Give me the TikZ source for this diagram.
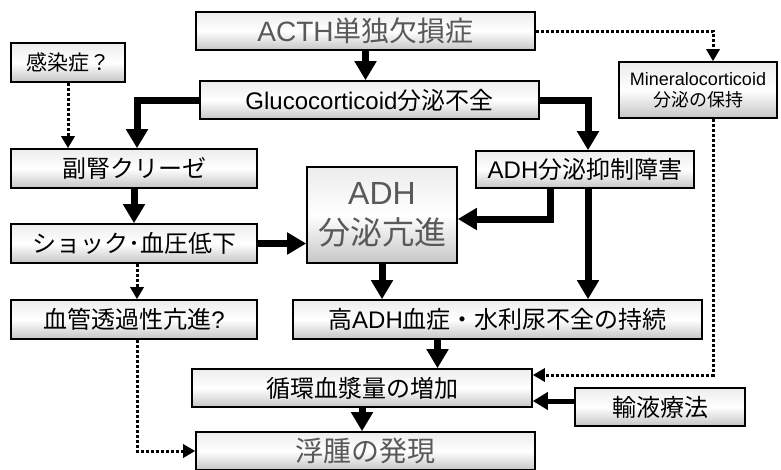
\documentclass[tikz,border=0pt]{standalone}
\usepackage{fontspec}
\setmainfont{Noto Sans CJK JP}
\newfontfamily\lat{Liberation Sans}
\usetikzlibrary{arrows.meta}
\tikzset{x=1pt, y=-1pt, % one unit is one pixel of the sketch, y runs downwards
box/.style={draw, line width=1.6pt, top color=gray!15, bottom color=gray!45, middle color=white,
  inner sep=0pt, font=\fontsize{24}{28}\selectfont}, % the shaded boxes
dim/.style={text=gray!70!black, font=\fontsize{28}{32}\selectfont}, % grey text of the main chain
heavy/.style={line width=7pt, -{Triangle[length=19pt,width=21pt]}},
light/.style={line width=5pt, -{Triangle[length=15pt,width=17pt]}},
dotline/.style={line width=3pt, dash pattern=on 3pt off 2pt, -{Triangle[length=12pt,width=13pt]}},
}
\begin{document}
\begin{tikzpicture}
    \useasboundingbox (0,0) rectangle (781,469);
    \node[box, dim, minimum width=339pt, minimum height=38pt] (acth) at (365.5,31) {{\lat ACTH}単独欠損症};
    \node[box, minimum width=339pt, minimum height=38pt] (gluco) at (369.5,100) {{\lat Glucocorticoid}分泌不全};
    \node[box, minimum width=114pt, minimum height=39pt, font=\fontsize{21}{24}\selectfont] (infect) at (68,62.5) {感染症？};
    \node[box, minimum width=246pt, minimum height=39pt] (crisis) at (134,168.5) {副腎クリーゼ};
    \node[box, minimum width=246pt, minimum height=39pt] (shock) at (134,243.5) {ショック･血圧低下};
    \node[box, minimum width=150pt, minimum height=96pt, text=gray!70!black, align=center,
      font=\fontsize{32}{40}\selectfont] (adhup) at (382,215) {{\lat ADH}\\分泌亢進};
    \node[box, minimum width=218pt, minimum height=37pt] (adhinh) at (585,169.5) {{\lat ADH}分泌抑制障害};
    \node[box, minimum width=158pt, minimum height=56pt, align=center,
      font=\fontsize{18}{21}\selectfont] (mineral) at (698,90) {{\lat Mineralocorticoid}\\分泌の保持};
    \node[box, minimum width=246pt, minimum height=39pt] (perm) at (134,319.5) {血管透過性亢進{\lat ?}};
    \node[box, minimum width=409pt, minimum height=39pt] (high) at (497.5,319.5) {高{\lat ADH}血症・水利尿不全の持続};
    \node[box, minimum width=340pt, minimum height=38pt] (volume) at (362,388) {循環血漿量の増加};
    \node[box, dim, minimum width=339pt, minimum height=38pt] (edema) at (365.5,451) {浮腫の発現};
    \node[box, minimum width=170pt, minimum height=38pt] (fluid) at (660,407) {輸液療法};

    % solid arrows
    \draw[heavy] (acth.south) -- (acth.south |- gluco.north);
    \draw[heavy] (gluco.west) -| ([xshift=3pt]crisis.north);
    \draw[heavy] (gluco.east) -| ([xshift=3pt]adhinh.north);
    \draw[heavy] (crisis) -- (shock);
    \draw[heavy] (shock.east) -- (shock.east -| adhup.west);
    \draw[heavy] ([xshift=-35pt]adhinh.south) |- ([yshift=-4pt]adhup.east);
    \draw[heavy] ([xshift=3pt]adhinh.south) -- ([xshift=3pt]adhinh.south |- high.north);
    \draw[heavy] (adhup.south) -- (adhup.south |- high.north);
    \draw[heavy] ([xshift=-60pt]high.south) -- ([xshift=-60pt]high.south |- volume.north);
    \draw[heavy] (volume.south) -- (volume.south |- edema.north);
    \draw[light] ([yshift=6pt]fluid.west) -- ([yshift=6pt]fluid.west -| volume.east);

    % dotted arrows
    \draw[dotline] (infect.south) -- (infect.south |- crisis.north);
    \draw[dotline] ([xshift=3pt]shock.south) -- ([xshift=3pt]shock.south |- perm.north);
    \draw[dotline] ([xshift=3pt]perm.south) |- (edema.west);
    \draw[dotline] (acth.east) -| ([xshift=15pt]mineral.north);
    \draw[dotline] ([xshift=15pt]mineral.south) |- ([yshift=13pt]volume.east);
\end{tikzpicture}
\end{document}
